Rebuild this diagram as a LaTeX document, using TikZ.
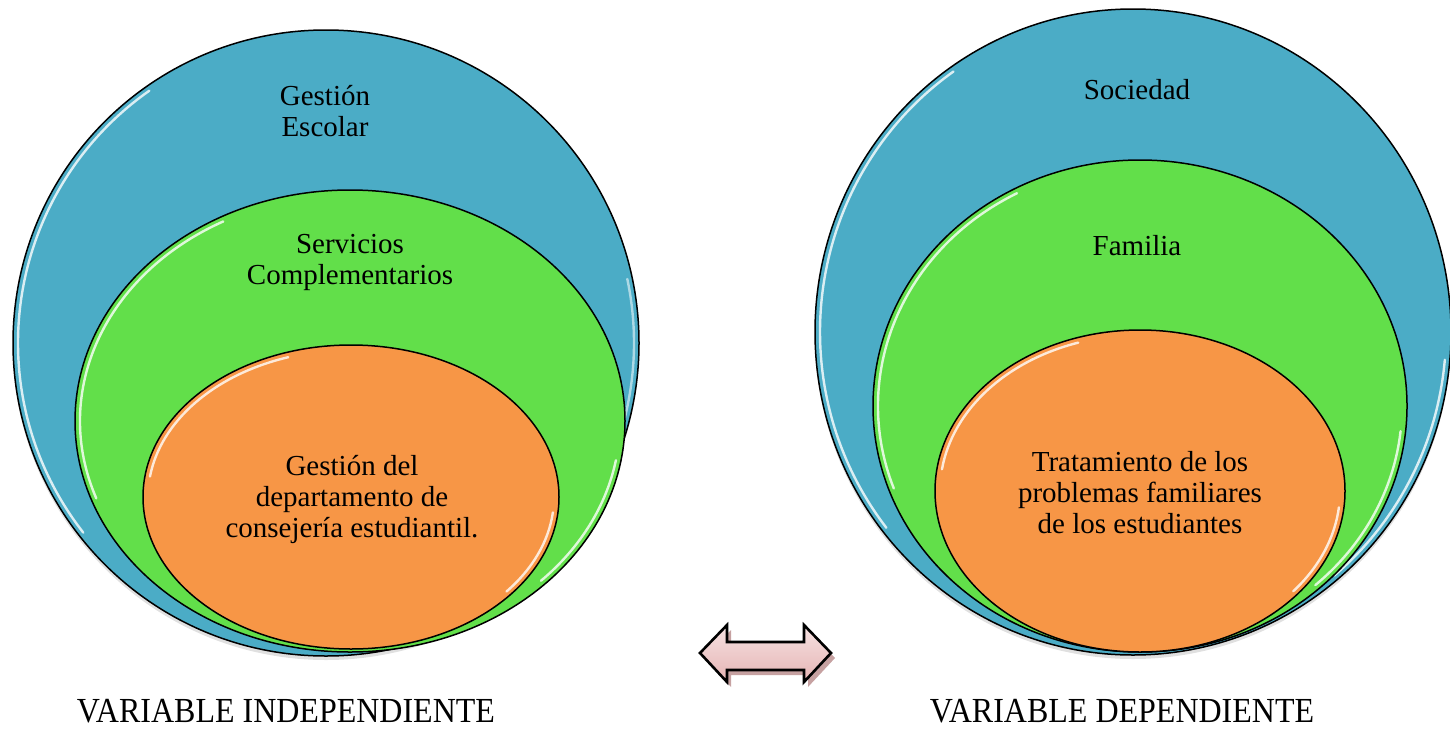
\documentclass[tikz,border=0pt]{standalone}
\usepackage{fontspec}
\setmainfont{Liberation Serif}
\definecolor{cblue}{HTML}{4BACC6}
\definecolor{cgreen}{HTML}{62DF4A}
\definecolor{corange}{HTML}{F79646}
\definecolor{apink}{HTML}{E6B4B4}
\definecolor{apinkl}{HTML}{F6E2E2}
\definecolor{ashadow}{HTML}{B88A8A}
\tikzset{
  ring/.style={draw=black, line width=1.5pt},
  shine/.style={white, line width=2.4pt, opacity=.8, line cap=round},
  lbl/.style={align=center, font=\fontsize{29}{31}\selectfont, inner sep=0pt},
  captxt/.style={font=\fontsize{32}{33}\selectfont, inner sep=0pt},
  shadowfill/.style={fill=black, opacity=.12},
}
\begin{document}
\begin{tikzpicture}[x=1pt,y=-1pt]
\useasboundingbox (0,0) rectangle (1450,731);

% ---------- left set ----------
\fill[shadowfill] (326,347) ellipse [x radius=313, y radius=313];
\fill[cblue,ring] (326,343) ellipse [x radius=313, y radius=313];
\draw[shine] ([shift={(326,343)}]-125:308) arc[start angle=-125, end angle=-218, radius=308];
\draw[shine,opacity=.55] ([shift={(326,343)}]-12:308) arc[start angle=-12, end angle=14, radius=308];

\fill[cgreen,ring] (350,421) ellipse [x radius=275, y radius=231];
\draw[shine] ([shift={(350,421)}]-118:270 and 226) arc[start angle=-118, end angle=-200, x radius=270, y radius=226];
\draw[shine] ([shift={(350,421)}]10:270 and 226) arc[start angle=10, end angle=45, x radius=270, y radius=226];

\fill[corange,ring] (351,497) ellipse [x radius=208, y radius=152];
\draw[shine] ([shift={(351,497)}]-108:203 and 147) arc[start angle=-108, end angle=-172, x radius=203, y radius=147];
\draw[shine] ([shift={(351,497)}]6:203 and 147) arc[start angle=6, end angle=40, x radius=203, y radius=147];

\node[lbl] (ge) at (325,111) {Gestión\\Escolar};
\node[lbl] (sc) at (350,262) {Servicios\\Complementarios};
\node[lbl] (gd) at (352,499) {Gestión del\\departamento de\\consejería estudiantil.};

% ---------- right set ----------
\fill[shadowfill] (1133,336) ellipse [x radius=318, y radius=323];
\fill[cblue,ring] (1133,332) ellipse [x radius=318, y radius=323];
\draw[shine] ([shift={(1133,332)}]-125:313 and 318) arc[start angle=-125, end angle=-218, x radius=313, y radius=318];
\draw[shine] ([shift={(1133,332)}]5:313 and 318) arc[start angle=5, end angle=50, x radius=313, y radius=318];

\fill[cgreen,ring] (1140,406) ellipse [x radius=267, y radius=246];
\draw[shine] ([shift={(1140,406)}]-118:262 and 241) arc[start angle=-118, end angle=-200, x radius=262, y radius=241];
\draw[shine] ([shift={(1140,406)}]6:262 and 241) arc[start angle=6, end angle=48, x radius=262, y radius=241];

\fill[corange,ring] (1140,491) ellipse [x radius=205, y radius=161];
\draw[shine] ([shift={(1140,491)}]-108:200 and 156) arc[start angle=-108, end angle=-172, x radius=200, y radius=156];
\draw[shine] ([shift={(1140,491)}]6:200 and 156) arc[start angle=6, end angle=40, x radius=200, y radius=156];

\node[lbl] (so) at (1137,90) {Sociedad};
\node[lbl] (fa) at (1137,246) {Familia};
\node[lbl] (tr) at (1140,493) {Tratamiento de los\\problemas familiares\\de los estudiantes};

% ---------- captions ----------
\node[captxt] (vi) at (286,711) {\scalebox{1}[1.1]{VARIABLE INDEPENDIENTE}};
\node[captxt] (vd) at (1122,711) {\scalebox{1}[1.1]{VARIABLE DEPENDIENTE}};

% ---------- double arrow ----------
\fill[ashadow,opacity=.8] (704,658) -- (731,630) -- (731,647) -- (808,647) -- (808,630) -- (835,658)
  -- (808,687) -- (808,675) -- (731,675) -- (731,687) -- cycle;
\draw[line width=2.6pt, line join=miter, top color=apinkl, middle color=white, bottom color=apink]
  (700,653) -- (727,625) -- (727,642) -- (804,642) -- (804,625) -- (831,653)
  -- (804,682) -- (804,670) -- (727,670) -- (727,682) -- cycle;
\end{tikzpicture}
\end{document}
